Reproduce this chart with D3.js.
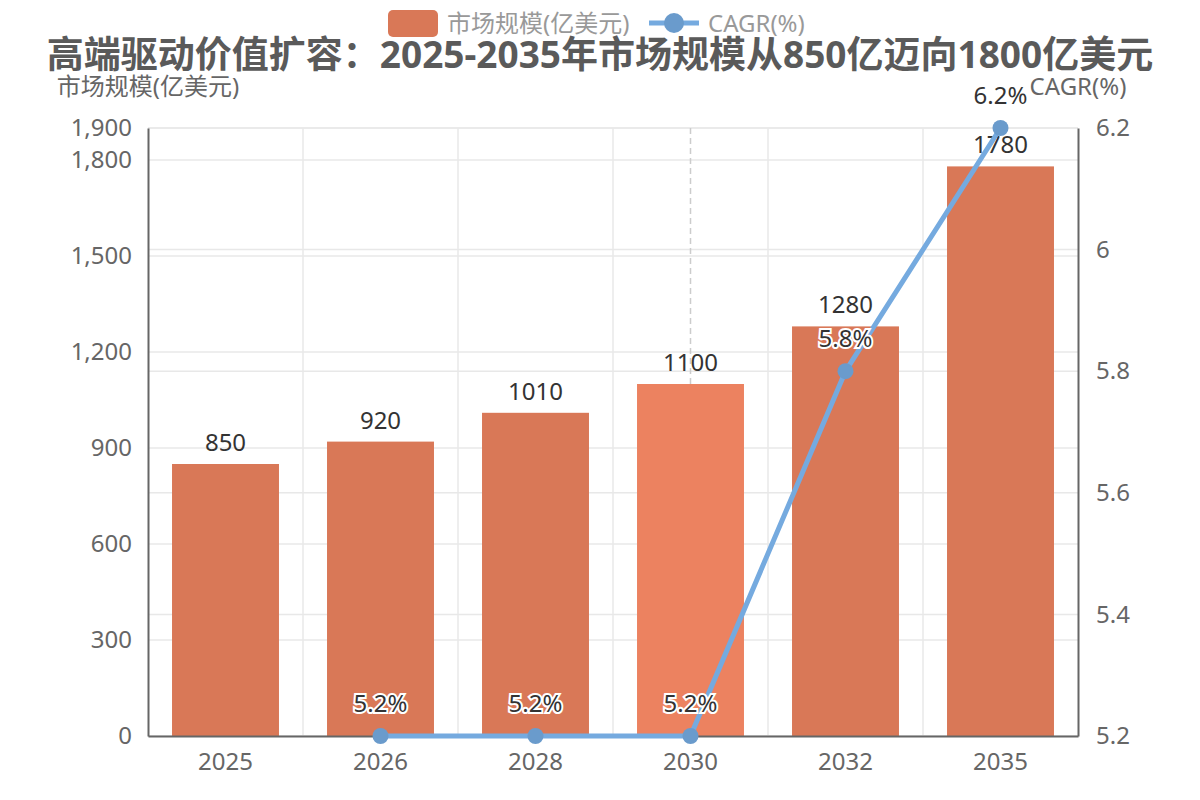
<!DOCTYPE html>
<html>
<head>
<meta charset="utf-8">
<script src="https://cdn.jsdelivr.net/npm/d3@7"></script>
<style>
  body { margin: 0; background: #fff; }
  svg { font-family: "Noto Sans", "Noto Sans CJK SC", sans-serif; }
</style>
</head>
<body>
<svg id="chart" width="1200" height="800"></svg>
<script>
var years = ["2025", "2026", "2028", "2030", "2032", "2035"];
var marketSize = [850, 920, 1010, 1100, 1280, 1780];
var cagrYears = ["2026", "2028", "2030", "2032", "2035"];
var cagrValues = [5.2, 5.2, 5.2, 5.8, 6.2];
var leftTicks = [0, 300, 600, 900, 1200, 1500, 1800, 1900];
var rightTicks = [5.2, 5.4, 5.6, 5.8, 6, 6.2];
var highlightYear = "2030";

var svg = d3.select("#chart");
var pLeft = 148, pRight = 1078, pTop = 128, pBottom = 736;

var x = d3.scaleBand().domain(years).range([pLeft, pRight]).paddingInner(0).paddingOuter(0);
var yL = d3.scaleLinear().domain([0, 1900]).range([pBottom, pTop]);
var yR = d3.scaleLinear().domain([5.2, 6.2]).range([pBottom, pTop]);

// grid
var grid = svg.append("g");
grid.selectAll(".hl").data(leftTicks).enter().append("line")
  .attr("x1", pLeft).attr("x2", pRight)
  .attr("y1", function(d) { return yL(d); }).attr("y2", function(d) { return yL(d); })
  .attr("stroke", "#e8e8e8").attr("stroke-width", 1.5);
grid.selectAll(".hr").data(rightTicks).enter().append("line")
  .attr("x1", pLeft).attr("x2", pRight)
  .attr("y1", function(d) { return yR(d); }).attr("y2", function(d) { return yR(d); })
  .attr("stroke", "#e8e8e8").attr("stroke-width", 1.5);
grid.selectAll(".v").data(years.slice(1)).enter().append("line")
  .attr("x1", function(d) { return x(d); }).attr("x2", function(d) { return x(d); })
  .attr("y1", pTop).attr("y2", pBottom)
  .attr("stroke", "#e8e8e8").attr("stroke-width", 1.5);

// pointer line
svg.append("line")
  .attr("x1", x(highlightYear) + x.bandwidth() / 2).attr("x2", x(highlightYear) + x.bandwidth() / 2)
  .attr("y1", pTop).attr("y2", pBottom)
  .attr("stroke", "#cccccc").attr("stroke-width", 1.5).attr("stroke-dasharray", "6,4");

// bars
var bw = x.bandwidth() * 0.69;
svg.selectAll(".bar").data(marketSize).enter().append("rect")
  .attr("x", function(d, i) { return x(years[i]) + (x.bandwidth() - bw) / 2; })
  .attr("y", function(d) { return yL(d); })
  .attr("width", bw)
  .attr("height", function(d) { return pBottom - yL(d); })
  .attr("fill", function(d, i) { return years[i] === highlightYear ? "#ec8260" : "#d97857"; });

svg.selectAll(".barlabel").data(marketSize).enter().append("text")
  .attr("x", function(d, i) { return x(years[i]) + x.bandwidth() / 2; })
  .attr("y", function(d) { return yL(d) - 13; })
  .attr("text-anchor", "middle")
  .attr("font-size", 24).attr("fill", "#333")
  .text(function(d) { return d; });

// axes
var axL = svg.append("g").attr("transform", "translate(" + pLeft + ",0)")
  .call(d3.axisLeft(yL).tickValues(leftTicks).tickSize(0).tickPadding(16).tickFormat(d3.format(",")));
var axR = svg.append("g").attr("transform", "translate(" + pRight + ",0)")
  .call(d3.axisRight(yR).tickValues(rightTicks).tickSize(0).tickPadding(18).tickFormat(function(d) { return d3.format("~g")(d); }));
var axB = svg.append("g").attr("transform", "translate(0," + pBottom + ")")
  .call(d3.axisBottom(x).tickSize(0).tickPadding(14));
[axL, axR, axB].forEach(function(a) {
  a.select(".domain").attr("stroke", "#666").attr("stroke-width", 2);
  a.selectAll("text").attr("font-size", 24).attr("fill", "#666")
    .style("font-family", "'Noto Sans', 'Noto Sans CJK SC', sans-serif");
});
axB.selectAll("text").attr("dy", "0.85em");

// line
var line = d3.line()
  .x(function(d, i) { return x(cagrYears[i]) + x.bandwidth() / 2; })
  .y(function(d) { return yR(d); });
svg.append("path").datum(cagrValues)
  .attr("d", line).attr("fill", "none")
  .attr("stroke", "#75aadf").attr("stroke-width", 5).attr("stroke-linejoin", "round");
svg.selectAll(".pt").data(cagrValues).enter().append("circle")
  .attr("cx", function(d, i) { return x(cagrYears[i]) + x.bandwidth() / 2; })
  .attr("cy", function(d) { return yR(d); })
  .attr("r", 8).attr("fill", "#6a9bcc");
svg.selectAll(".ptlabel").data(cagrValues).enter().append("text")
  .attr("x", function(d, i) { return x(cagrYears[i]) + x.bandwidth() / 2; })
  .attr("y", function(d) { return yR(d) - 24; })
  .attr("text-anchor", "middle")
  .attr("font-size", 24).attr("fill", "#333")
  .attr("stroke", "#fff").attr("stroke-width", 4).attr("paint-order", "stroke")
  .text(function(d) { return d3.format(".1f")(d) + "%"; });

// axis names
svg.append("text").attr("x", 148).attr("y", 95).attr("text-anchor", "middle")
  .attr("font-size", 24).attr("fill", "#666").text("市场规模(亿美元)");
svg.append("text").attr("x", 1078).attr("y", 95).attr("text-anchor", "middle")
  .attr("font-size", 24).attr("fill", "#666").text("CAGR(%)");

// title
svg.append("text").attr("x", 600).attr("y", 68).attr("text-anchor", "middle")
  .attr("font-size", 37).attr("font-weight", "bold").attr("fill", "#5a5a5a")
  .text("高端驱动价值扩容：2025-2035年市场规模从850亿迈向1800亿美元");

// legend
var lg = svg.append("g");
lg.append("rect").attr("x", 388).attr("y", 10).attr("width", 50).attr("height", 27).attr("rx", 5)
  .attr("fill", "#d97857");
lg.append("text").attr("x", 447).attr("y", 32).attr("font-size", 24).attr("fill", "#999")
  .text("市场规模(亿美元)");
lg.append("line").attr("x1", 649).attr("x2", 699).attr("y1", 23).attr("y2", 23)
  .attr("stroke", "#75aadf").attr("stroke-width", 5);
lg.append("circle").attr("cx", 674).attr("cy", 23).attr("r", 10).attr("fill", "#6a9bcc");
lg.append("text").attr("x", 708).attr("y", 32).attr("font-size", 24).attr("fill", "#999")
  .text("CAGR(%)");
</script>
</body>
</html>
